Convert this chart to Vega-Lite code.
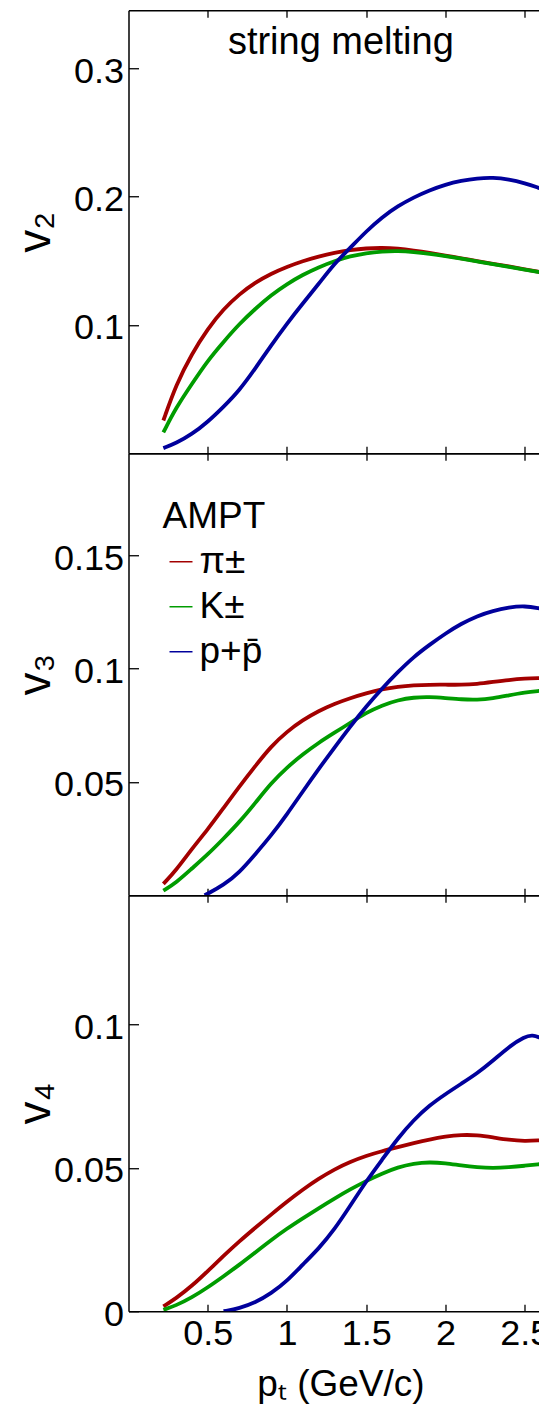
{
  "$schema": "https://vega.github.io/schema/vega-lite/v6.json",
  "background": "white",
  "padding": {"left": 11.5, "top": 9.25, "right": -9.7, "bottom": 8.2},
  "spacing": 0,
  "bounds": "flush",
  "config": {
    "view": {"stroke": null},
    "font": "Liberation Sans",
    "axis": {
      "grid": false,
      "domainColor": "black",
      "domainWidth": 1.5,
      "tickColor": "black",
      "tickWidth": 1.3,
      "labelColor": "black",
      "labelFont": "Liberation Sans",
      "labelFontSize": 36,
      "titleColor": "black",
      "titleFont": "Liberation Sans",
      "titleFontWeight": "normal"
    }
  },
  "resolve": {"legend": {"color": "independent"}},
  "datasets": {
    "v2": [
      {"pt": 0.22, "v": 0.0255, "particle": "π±"}, {"pt": 0.3, "v": 0.0535, "particle": "π±"}, {"pt": 0.4, "v": 0.0775, "particle": "π±"}, {"pt": 0.5, "v": 0.097, "particle": "π±"}, {"pt": 0.6, "v": 0.1123, "particle": "π±"}, {"pt": 0.7, "v": 0.124, "particle": "π±"}, {"pt": 0.8, "v": 0.133, "particle": "π±"}, {"pt": 0.9, "v": 0.1399, "particle": "π±"}, {"pt": 1.0, "v": 0.1452, "particle": "π±"}, {"pt": 1.1, "v": 0.1497, "particle": "π±"}, {"pt": 1.2, "v": 0.1533, "particle": "π±"}, {"pt": 1.3, "v": 0.1562, "particle": "π±"}, {"pt": 1.4, "v": 0.1583, "particle": "π±"}, {"pt": 1.5, "v": 0.1596, "particle": "π±"}, {"pt": 1.6, "v": 0.16, "particle": "π±"}, {"pt": 1.7, "v": 0.1594, "particle": "π±"}, {"pt": 1.8, "v": 0.1579, "particle": "π±"}, {"pt": 1.9, "v": 0.1561, "particle": "π±"}, {"pt": 2.0, "v": 0.154, "particle": "π±"}, {"pt": 2.1, "v": 0.1518, "particle": "π±"}, {"pt": 2.2, "v": 0.1497, "particle": "π±"}, {"pt": 2.3, "v": 0.1475, "particle": "π±"}, {"pt": 2.4, "v": 0.1455, "particle": "π±"}, {"pt": 2.5, "v": 0.1433, "particle": "π±"}, {"pt": 2.6, "v": 0.141, "particle": "π±"},
      {"pt": 0.22, "v": 0.0162, "particle": "K±"}, {"pt": 0.3, "v": 0.0355, "particle": "K±"}, {"pt": 0.4, "v": 0.054, "particle": "K±"}, {"pt": 0.5, "v": 0.0722, "particle": "K±"}, {"pt": 0.6, "v": 0.0868, "particle": "K±"}, {"pt": 0.7, "v": 0.1008, "particle": "K±"}, {"pt": 0.8, "v": 0.1125, "particle": "K±"}, {"pt": 0.9, "v": 0.1232, "particle": "K±"}, {"pt": 1.0, "v": 0.1318, "particle": "K±"}, {"pt": 1.1, "v": 0.139, "particle": "K±"}, {"pt": 1.2, "v": 0.1449, "particle": "K±"}, {"pt": 1.3, "v": 0.1497, "particle": "K±"}, {"pt": 1.4, "v": 0.1535, "particle": "K±"}, {"pt": 1.5, "v": 0.1559, "particle": "K±"}, {"pt": 1.6, "v": 0.1572, "particle": "K±"}, {"pt": 1.7, "v": 0.1576, "particle": "K±"}, {"pt": 1.8, "v": 0.1568, "particle": "K±"}, {"pt": 1.9, "v": 0.1553, "particle": "K±"}, {"pt": 2.0, "v": 0.1535, "particle": "K±"}, {"pt": 2.1, "v": 0.1515, "particle": "K±"}, {"pt": 2.2, "v": 0.1494, "particle": "K±"}, {"pt": 2.3, "v": 0.1473, "particle": "K±"}, {"pt": 2.4, "v": 0.1452, "particle": "K±"}, {"pt": 2.5, "v": 0.1431, "particle": "K±"}, {"pt": 2.6, "v": 0.1408, "particle": "K±"},
      {"pt": 0.22, "v": 0.004, "particle": "p+p̄"}, {"pt": 0.3, "v": 0.0078, "particle": "p+p̄"}, {"pt": 0.4, "v": 0.0148, "particle": "p+p̄"}, {"pt": 0.5, "v": 0.0244, "particle": "p+p̄"}, {"pt": 0.6, "v": 0.0362, "particle": "p+p̄"}, {"pt": 0.7, "v": 0.049, "particle": "p+p̄"}, {"pt": 0.8, "v": 0.066, "particle": "p+p̄"}, {"pt": 0.9, "v": 0.084, "particle": "p+p̄"}, {"pt": 1.0, "v": 0.101, "particle": "p+p̄"}, {"pt": 1.1, "v": 0.1168, "particle": "p+p̄"}, {"pt": 1.2, "v": 0.1318, "particle": "p+p̄"}, {"pt": 1.3, "v": 0.1478, "particle": "p+p̄"}, {"pt": 1.4, "v": 0.16, "particle": "p+p̄"}, {"pt": 1.5, "v": 0.1728, "particle": "p+p̄"}, {"pt": 1.6, "v": 0.1838, "particle": "p+p̄"}, {"pt": 1.7, "v": 0.1925, "particle": "p+p̄"}, {"pt": 1.8, "v": 0.1993, "particle": "p+p̄"}, {"pt": 1.9, "v": 0.2048, "particle": "p+p̄"}, {"pt": 2.0, "v": 0.2093, "particle": "p+p̄"}, {"pt": 2.1, "v": 0.2122, "particle": "p+p̄"}, {"pt": 2.2, "v": 0.2141, "particle": "p+p̄"}, {"pt": 2.3, "v": 0.2147, "particle": "p+p̄"}, {"pt": 2.4, "v": 0.2134, "particle": "p+p̄"}, {"pt": 2.5, "v": 0.2104, "particle": "p+p̄"}, {"pt": 2.6, "v": 0.2062, "particle": "p+p̄"}
    ],
    "v3": [
      {"pt": 0.22, "v": 0.005, "particle": "π±"}, {"pt": 0.3, "v": 0.011, "particle": "π±"}, {"pt": 0.4, "v": 0.0205, "particle": "π±"}, {"pt": 0.5, "v": 0.029, "particle": "π±"}, {"pt": 0.6, "v": 0.0385, "particle": "π±"}, {"pt": 0.7, "v": 0.048, "particle": "π±"}, {"pt": 0.8, "v": 0.057, "particle": "π±"}, {"pt": 0.9, "v": 0.0657, "particle": "π±"}, {"pt": 1.0, "v": 0.0722, "particle": "π±"}, {"pt": 1.1, "v": 0.0773, "particle": "π±"}, {"pt": 1.2, "v": 0.0813, "particle": "π±"}, {"pt": 1.3, "v": 0.0845, "particle": "π±"}, {"pt": 1.4, "v": 0.087, "particle": "π±"}, {"pt": 1.5, "v": 0.0891, "particle": "π±"}, {"pt": 1.6, "v": 0.0909, "particle": "π±"}, {"pt": 1.7, "v": 0.092, "particle": "π±"}, {"pt": 1.8, "v": 0.0926, "particle": "π±"}, {"pt": 1.9, "v": 0.0929, "particle": "π±"}, {"pt": 2.0, "v": 0.0929, "particle": "π±"}, {"pt": 2.1, "v": 0.0928, "particle": "π±"}, {"pt": 2.2, "v": 0.0932, "particle": "π±"}, {"pt": 2.3, "v": 0.0941, "particle": "π±"}, {"pt": 2.4, "v": 0.095, "particle": "π±"}, {"pt": 2.5, "v": 0.0956, "particle": "π±"}, {"pt": 2.6, "v": 0.0958, "particle": "π±"},
      {"pt": 0.22, "v": 0.002, "particle": "K±"}, {"pt": 0.3, "v": 0.0055, "particle": "K±"}, {"pt": 0.4, "v": 0.0118, "particle": "K±"}, {"pt": 0.5, "v": 0.018, "particle": "K±"}, {"pt": 0.6, "v": 0.025, "particle": "K±"}, {"pt": 0.7, "v": 0.0323, "particle": "K±"}, {"pt": 0.8, "v": 0.0407, "particle": "K±"}, {"pt": 0.9, "v": 0.0495, "particle": "K±"}, {"pt": 1.0, "v": 0.0564, "particle": "K±"}, {"pt": 1.1, "v": 0.0622, "particle": "K±"}, {"pt": 1.2, "v": 0.0673, "particle": "K±"}, {"pt": 1.3, "v": 0.0717, "particle": "K±"}, {"pt": 1.4, "v": 0.0761, "particle": "K±"}, {"pt": 1.5, "v": 0.0805, "particle": "K±"}, {"pt": 1.6, "v": 0.0838, "particle": "K±"}, {"pt": 1.7, "v": 0.0861, "particle": "K±"}, {"pt": 1.8, "v": 0.0873, "particle": "K±"}, {"pt": 1.9, "v": 0.0875, "particle": "K±"}, {"pt": 2.0, "v": 0.087, "particle": "K±"}, {"pt": 2.1, "v": 0.0864, "particle": "K±"}, {"pt": 2.2, "v": 0.0862, "particle": "K±"}, {"pt": 2.3, "v": 0.0868, "particle": "K±"}, {"pt": 2.4, "v": 0.0882, "particle": "K±"}, {"pt": 2.5, "v": 0.0895, "particle": "K±"}, {"pt": 2.6, "v": 0.0902, "particle": "K±"},
      {"pt": 0.48, "v": 0.0, "particle": "p+p̄"}, {"pt": 0.5, "v": 0.0007, "particle": "p+p̄"}, {"pt": 0.6, "v": 0.0045, "particle": "p+p̄"}, {"pt": 0.7, "v": 0.01, "particle": "p+p̄"}, {"pt": 0.8, "v": 0.0181, "particle": "p+p̄"}, {"pt": 0.9, "v": 0.0263, "particle": "p+p̄"}, {"pt": 1.0, "v": 0.0357, "particle": "p+p̄"}, {"pt": 1.1, "v": 0.0458, "particle": "p+p̄"}, {"pt": 1.2, "v": 0.0557, "particle": "p+p̄"}, {"pt": 1.3, "v": 0.0652, "particle": "p+p̄"}, {"pt": 1.4, "v": 0.0745, "particle": "p+p̄"}, {"pt": 1.5, "v": 0.0833, "particle": "p+p̄"}, {"pt": 1.6, "v": 0.0912, "particle": "p+p̄"}, {"pt": 1.7, "v": 0.0985, "particle": "p+p̄"}, {"pt": 1.8, "v": 0.1052, "particle": "p+p̄"}, {"pt": 1.9, "v": 0.1105, "particle": "p+p̄"}, {"pt": 2.0, "v": 0.1155, "particle": "p+p̄"}, {"pt": 2.1, "v": 0.1198, "particle": "p+p̄"}, {"pt": 2.2, "v": 0.1232, "particle": "p+p̄"}, {"pt": 2.3, "v": 0.1255, "particle": "p+p̄"}, {"pt": 2.4, "v": 0.127, "particle": "p+p̄"}, {"pt": 2.5, "v": 0.1277, "particle": "p+p̄"}, {"pt": 2.6, "v": 0.1265, "particle": "p+p̄"}
    ],
    "v4": [
      {"pt": 0.22, "v": 0.0017, "particle": "π±"}, {"pt": 0.3, "v": 0.0045, "particle": "π±"}, {"pt": 0.4, "v": 0.0088, "particle": "π±"}, {"pt": 0.5, "v": 0.0140, "particle": "π±"}, {"pt": 0.6, "v": 0.0193, "particle": "π±"}, {"pt": 0.7, "v": 0.0244, "particle": "π±"}, {"pt": 0.8, "v": 0.0291, "particle": "π±"}, {"pt": 0.9, "v": 0.0337, "particle": "π±"}, {"pt": 1.0, "v": 0.0382, "particle": "π±"}, {"pt": 1.1, "v": 0.0424, "particle": "π±"}, {"pt": 1.2, "v": 0.0462, "particle": "π±"}, {"pt": 1.3, "v": 0.0495, "particle": "π±"}, {"pt": 1.4, "v": 0.0521, "particle": "π±"}, {"pt": 1.5, "v": 0.0542, "particle": "π±"}, {"pt": 1.6, "v": 0.0558, "particle": "π±"}, {"pt": 1.7, "v": 0.0572, "particle": "π±"}, {"pt": 1.8, "v": 0.0586, "particle": "π±"}, {"pt": 1.9, "v": 0.0599, "particle": "π±"}, {"pt": 2.0, "v": 0.0609, "particle": "π±"}, {"pt": 2.1, "v": 0.0615, "particle": "π±"}, {"pt": 2.2, "v": 0.0614, "particle": "π±"}, {"pt": 2.3, "v": 0.0606, "particle": "π±"}, {"pt": 2.4, "v": 0.0597, "particle": "π±"}, {"pt": 2.5, "v": 0.0593, "particle": "π±"}, {"pt": 2.6, "v": 0.0596, "particle": "π±"},
      {"pt": 0.22, "v": 0.0005, "particle": "K±"}, {"pt": 0.3, "v": 0.002, "particle": "K±"}, {"pt": 0.4, "v": 0.0048, "particle": "K±"}, {"pt": 0.5, "v": 0.0083, "particle": "K±"}, {"pt": 0.6, "v": 0.0122, "particle": "K±"}, {"pt": 0.7, "v": 0.0162, "particle": "K±"}, {"pt": 0.8, "v": 0.0205, "particle": "K±"}, {"pt": 0.9, "v": 0.0248, "particle": "K±"}, {"pt": 1.0, "v": 0.0288, "particle": "K±"}, {"pt": 1.1, "v": 0.0324, "particle": "K±"}, {"pt": 1.2, "v": 0.0359, "particle": "K±"}, {"pt": 1.3, "v": 0.0393, "particle": "K±"}, {"pt": 1.4, "v": 0.0425, "particle": "K±"}, {"pt": 1.5, "v": 0.0454, "particle": "K±"}, {"pt": 1.6, "v": 0.048, "particle": "K±"}, {"pt": 1.7, "v": 0.0502, "particle": "K±"}, {"pt": 1.8, "v": 0.0515, "particle": "K±"}, {"pt": 1.9, "v": 0.052, "particle": "K±"}, {"pt": 2.0, "v": 0.0516, "particle": "K±"}, {"pt": 2.1, "v": 0.0508, "particle": "K±"}, {"pt": 2.2, "v": 0.0502, "particle": "K±"}, {"pt": 2.3, "v": 0.0499, "particle": "K±"}, {"pt": 2.4, "v": 0.0502, "particle": "K±"}, {"pt": 2.5, "v": 0.0507, "particle": "K±"}, {"pt": 2.6, "v": 0.0513, "particle": "K±"},
      {"pt": 0.6, "v": 0.0, "particle": "p+p̄"}, {"pt": 0.7, "v": 0.001, "particle": "p+p̄"}, {"pt": 0.8, "v": 0.003, "particle": "p+p̄"}, {"pt": 0.9, "v": 0.0062, "particle": "p+p̄"}, {"pt": 1.0, "v": 0.0105, "particle": "p+p̄"}, {"pt": 1.1, "v": 0.0163, "particle": "p+p̄"}, {"pt": 1.2, "v": 0.0218, "particle": "p+p̄"}, {"pt": 1.3, "v": 0.0285, "particle": "p+p̄"}, {"pt": 1.4, "v": 0.0368, "particle": "p+p̄"}, {"pt": 1.5, "v": 0.0453, "particle": "p+p̄"}, {"pt": 1.6, "v": 0.0528, "particle": "p+p̄"}, {"pt": 1.7, "v": 0.0603, "particle": "p+p̄"}, {"pt": 1.8, "v": 0.0667, "particle": "p+p̄"}, {"pt": 1.9, "v": 0.0718, "particle": "p+p̄"}, {"pt": 2.0, "v": 0.0757, "particle": "p+p̄"}, {"pt": 2.1, "v": 0.0793, "particle": "p+p̄"}, {"pt": 2.2, "v": 0.0829, "particle": "p+p̄"}, {"pt": 2.3, "v": 0.0873, "particle": "p+p̄"}, {"pt": 2.4, "v": 0.0922, "particle": "p+p̄"}, {"pt": 2.5, "v": 0.0957, "particle": "p+p̄"}, {"pt": 2.55, "v": 0.0963, "particle": "p+p̄"}, {"pt": 2.6, "v": 0.0953, "particle": "p+p̄"}
    ]
  },
  "vconcat": [
    {
      "width": 412,
      "height": 443,
      "layer": [
        {
          "data": {"name": "v2"},
          "mark": {"type": "line", "strokeWidth": 3.8, "interpolate": "basis", "clip": true},
          "encoding": {
            "x": {"field": "pt", "type": "quantitative", "scale": {"domain": [0, 2.6], "nice": false, "zero": false},
                  "axis": {"orient": "bottom", "values": [0.5, 1, 1.5, 2, 2.5], "labels": false, "tickSize": -7, "title": null}},
            "y": {"field": "v", "type": "quantitative", "scale": {"domain": [0, 0.345], "nice": false},
                  "axis": {"values": [0.1, 0.2, 0.3], "format": ".1~f", "tickSize": -10, "labelPadding": 15, "labelOffset": 3, "title": "v₂", "titleFontSize": 46, "titleAngle": -90, "titleAlign": "center", "titleBaseline": "alphabetic", "titleX": -79.5, "titleY": 221.5}},
            "color": {"field": "particle", "type": "nominal", "scale": {"domain": ["π±", "K±", "p+p̄"], "range": ["#a30000", "#009c00", "#00009c"]}, "legend": null}
          }
        },
        {
          "data": {"name": "v2"},
          "mark": {"type": "rule", "strokeOpacity": 0},
          "encoding": {
            "x": {"field": "pt", "type": "quantitative", "axis": {"orient": "top", "values": [0.5, 1, 1.5, 2, 2.5], "labels": false, "tickSize": -7, "title": null}}
          }
        },
        {
          "data": {"values": [{"label": "string melting"}]},
          "mark": {"type": "text", "align": "center", "baseline": "alphabetic", "fontSize": 38, "font": "Liberation Sans", "color": "black"},
          "encoding": {
            "x": {"datum": 1.34, "type": "quantitative", "axis": null},
            "y": {"datum": 0.311, "type": "quantitative",
                  "axis": {"values": [0.1, 0.2, 0.3], "format": ".1~f", "tickSize": -10, "labelPadding": 15, "labelOffset": 3, "title": "v₂", "titleFontSize": 46, "titleAngle": -90, "titleAlign": "center", "titleBaseline": "alphabetic", "titleX": -79.5, "titleY": 221.5}},
            "text": {"field": "label", "type": "nominal"}
          }
        }
      ],
      "resolve": {"axis": {"x": "independent"}}
    },
    {
      "width": 412,
      "height": 442,
      "data": {"name": "v3"},
      "layer": [
        {
          "mark": {"type": "line", "strokeWidth": 3.8, "interpolate": "basis", "clip": true},
          "encoding": {
            "x": {"field": "pt", "type": "quantitative", "scale": {"domain": [0, 2.6], "nice": false, "zero": false},
                  "axis": {"orient": "bottom", "values": [0.5, 1, 1.5, 2, 2.5], "labels": false, "tickSize": -7, "title": null}},
            "y": {"field": "v", "type": "quantitative", "scale": {"domain": [0, 0.195], "nice": false},
                  "axis": {"values": [0.05, 0.1, 0.15], "format": "~g", "tickSize": -10, "labelPadding": 15, "labelOffset": 3, "title": "v₃", "titleFontSize": 46, "titleAngle": -90, "titleAlign": "center", "titleBaseline": "alphabetic", "titleX": -79.5, "titleY": 221}},
            "color": {"field": "particle", "type": "nominal", "scale": {"domain": ["π±", "K±", "p+p̄"], "range": ["#a30000", "#009c00", "#00009c"]},
                      "legend": {"orient": "none", "legendX": 34, "legendY": 46, "padding": 0, "title": "AMPT", "titleFont": "Liberation Sans", "titleFontSize": 37, "titleFontWeight": "normal", "titleColor": "black", "titlePadding": 7, "labelFont": "Liberation Sans", "labelFontSize": 37, "labelColor": "black", "labelOffset": 0, "symbolType": "stroke", "symbolSize": 529, "symbolStrokeWidth": 1.5, "rowPadding": 7}}
          }
        },
        {
          "mark": {"type": "rule", "strokeOpacity": 0},
          "encoding": {
            "x": {"field": "pt", "type": "quantitative", "axis": {"orient": "top", "values": [0.5, 1, 1.5, 2, 2.5], "labels": false, "tickSize": -7, "title": null}}
          }
        }
      ],
      "resolve": {"axis": {"x": "independent"}}
    },
    {
      "width": 412,
      "height": 416,
      "data": {"name": "v4"},
      "layer": [
        {
          "mark": {"type": "line", "strokeWidth": 3.8, "interpolate": "basis", "clip": true},
          "encoding": {
            "x": {"field": "pt", "type": "quantitative", "scale": {"domain": [0, 2.6], "nice": false, "zero": false},
                  "axis": {"orient": "bottom", "values": [0.5, 1, 1.5, 2, 2.5], "format": "~g", "tickSize": -7, "labelPadding": 12.6, "title": "pₜ (GeV/c)", "titleFontSize": 37, "titleBaseline": "alphabetic", "titleAlign": "center", "titleX": 212, "titleY": 84}},
            "y": {"field": "v", "type": "quantitative", "scale": {"domain": [0, 0.145], "nice": false},
                  "axis": {"values": [0, 0.05, 0.1], "format": "~g", "tickSize": -10, "labelPadding": 15, "labelOffset": 3, "title": "v₄", "titleFontSize": 46, "titleAngle": -90, "titleAlign": "center", "titleBaseline": "alphabetic", "titleX": -79.5, "titleY": 208}},
            "color": {"field": "particle", "type": "nominal", "scale": {"domain": ["π±", "K±", "p+p̄"], "range": ["#a30000", "#009c00", "#00009c"]}, "legend": null}
          }
        },
        {
          "mark": {"type": "rule", "strokeOpacity": 0},
          "encoding": {
            "x": {"field": "pt", "type": "quantitative", "axis": {"orient": "top", "values": [0.5, 1, 1.5, 2, 2.5], "labels": false, "tickSize": -7, "title": null}}
          }
        }
      ],
      "resolve": {"axis": {"x": "independent"}}
    }
  ]
}
